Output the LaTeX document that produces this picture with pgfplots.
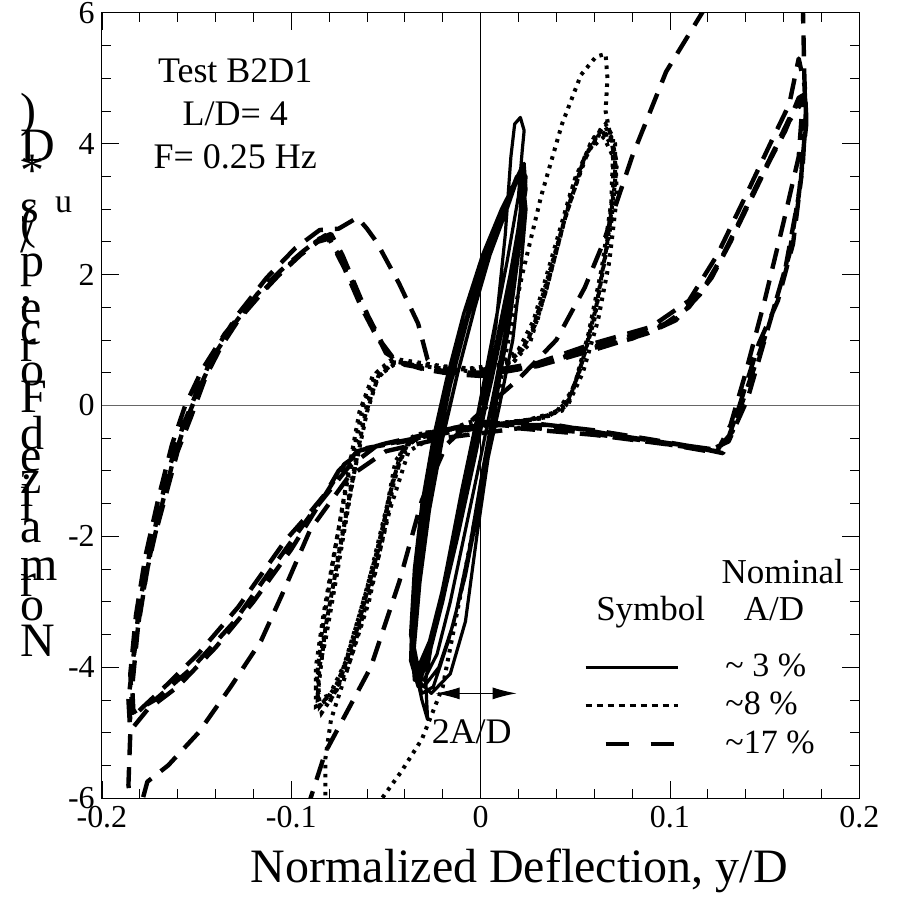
\documentclass[border=0pt]{standalone}
\usepackage{fontspec}
\setmainfont{Liberation Serif}
\usepackage{pgfplots}
\pgfplotsset{compat=1.18}
\usetikzlibrary{arrows.meta}
\newcommand\fs[1]{\fontsize{#1}{#1}\selectfont}
\pgfplotsset{
  lineleg/.style={legend image code/.code={\draw[##1, line width=3.2pt] (0pt,0pt) -- (92pt,0pt); \path[draw=none] (0pt,0pt) -- (138pt,0pt);}},
  dotleg/.style={legend image code/.code={\draw[##1, line width=3.2pt, dash pattern=on 6pt off 5pt] (0pt,0pt) -- (92pt,0pt); \path[draw=none] (0pt,0pt) -- (138pt,0pt);}},
  dashleg/.style={legend image code/.code={\draw[##1, line width=3.8pt, dash pattern=on 23pt off 22pt] (20pt,0pt) -- (88pt,0pt); \path[draw=none] (0pt,0pt) -- (138pt,0pt);}},
}
\begin{document}
\begin{tikzpicture}
\begin{axis}[
  scale only axis, width=758pt, height=786pt,
  xmin=-0.2, xmax=0.2, ymin=-6, ymax=6,
  xtick={-0.2,-0.1,0,0.1,0.2}, ytick={-6,-4,-2,0,2,4,6},
  minor x tick num=4, minor y tick num=3,
  tick align=inside, major tick length=17pt, minor tick length=9pt,
  tick style={black, line width=0.8pt},
  axis line style={line width=1pt},
  /pgf/number format/assume math mode=true,
  ticklabel style={font=\fs{32}, inner sep=2pt},
  xticklabel style={yshift=-6pt},
  yticklabel style={xshift=-5pt},
  xlabel={Normalized Deflection, y/D},
  xlabel style={font=\fs{48}, at={(axis description cs:0.551,0)}, anchor=base, yshift=-84pt},
  legend style={at={(axis cs:0.0545,-3.74)}, anchor=north west, draw=none, fill=none,
    font=\fs{34}, row sep=4.5pt, inner sep=0pt,
    nodes={inner sep=2pt, text height=24pt, text depth=6pt}},
  legend cell align=left,
  clip=true,
]
\draw[line width=0.8pt] (axis cs:0,-6) -- (axis cs:0,6);
\draw[line width=0.8pt, black!60] (axis cs:-0.2,0) -- (axis cs:0.2,0);

% ~3% (solid)
\addplot[black, line width=3.2pt, line join=round, lineleg] coordinates {
(0.0,0.0) (0.008,1.2) (0.013,2.6) (0.016,3.8) (0.018,4.3) (0.021,4.4) (0.023,4.2) (0.022,3.9) (0.02,3.2) (0.014,2.2) (0.006,1.0) (-0.002,-0.2) (-0.01,-1.3) (-0.018,-2.5) (-0.025,-3.5) (-0.029,-4.2) (-0.028,-4.8) (-0.031,-4.5) (-0.034,-4.1)
(-0.036,-3.6) (-0.034,-2.6) (-0.029,-1.5) (-0.022,-0.4) (-0.015,0.5) (-0.006,1.4) (0.004,2.3) (0.013,3.0) (0.019,3.45) (0.023,3.6) (0.022,3.1) (0.017,2.2) (0.01,1.2) (0.003,0.2) (-0.004,-0.7) (-0.012,-1.7) (-0.02,-2.8) (-0.027,-3.6) (-0.033,-4.0)
(-0.035,-3.7) (-0.032,-2.7) (-0.027,-1.6) (-0.02,-0.5) (-0.012,0.5) (-0.003,1.5) (0.006,2.4) (0.015,3.1) (0.021,3.6) (0.024,3.5) (0.023,3.0) (0.019,2.1) (0.013,1.1) (0.007,0.2) (0.0,-0.8) (-0.008,-1.9) (-0.016,-3.0) (-0.023,-3.8) (-0.03,-4.2) (-0.034,-4.1)
(-0.037,-3.5) (-0.035,-2.5) (-0.031,-1.5) (-0.025,-0.5) (-0.018,0.4) (-0.009,1.4) (0.001,2.3) (0.011,3.0) (0.018,3.4) (0.022,3.5) (0.021,2.9) (0.015,1.9) (0.008,0.8) (0.001,-0.2) (-0.007,-1.2) (-0.015,-2.3) (-0.023,-3.3) (-0.03,-3.9) (-0.035,-4.2)
(-0.036,-3.8) (-0.033,-2.8) (-0.028,-1.7) (-0.021,-0.6) (-0.013,0.4) (-0.004,1.4) (0.005,2.3) (0.014,3.0) (0.02,3.5) (0.023,3.7) (0.024,3.3) (0.02,2.5) (0.014,1.5) (0.006,0.4) (-0.002,-0.6) (-0.011,-1.8) (-0.02,-3.0) (-0.027,-3.8) (-0.033,-4.3) (-0.036,-4.0)
(-0.035,-3.0) (-0.03,-1.8) (-0.024,-0.7) (-0.016,0.3) (-0.007,1.3) (0.003,2.3) (0.012,3.0) (0.019,3.5) (0.022,3.4) (0.02,2.6) (0.016,1.6) (0.011,0.6) (0.006,-0.4) (0.0,-1.4) (-0.008,-2.6) (-0.017,-3.6) (-0.025,-4.3) (-0.031,-4.4) (-0.035,-4.0)
(-0.036,-3.4) (-0.033,-2.4) (-0.028,-1.3) (-0.021,-0.2) (-0.012,0.9) (-0.002,1.9) (0.008,2.7) (0.016,3.3) (0.021,3.6) (0.022,3.2) (0.018,2.3) (0.012,1.3) (0.005,0.3) (-0.003,-0.8) (-0.012,-2.0) (-0.021,-3.1) (-0.029,-3.9) (-0.034,-4.2)
(-0.037,-3.9) (-0.036,-3.0) (-0.032,-2.0) (-0.026,-0.9) (-0.019,0.1) (-0.01,1.1) (0.0,2.0) (0.01,2.8) (0.017,3.3) (0.022,3.55) (0.024,3.0) (0.021,2.0) (0.017,1.0) (0.01,0.0) (0.004,-0.8) (-0.002,-2.0) (-0.008,-3.3) (-0.016,-4.1) (-0.026,-4.4) (-0.033,-4.2)
(-0.036,-3.7) (-0.034,-2.9) (-0.03,-1.9) (-0.024,-0.8) (-0.016,0.3) (-0.007,1.4) (0.004,2.4) (0.013,3.1) (0.02,3.5) (0.023,3.3) (0.02,2.3) (0.015,1.2) (0.008,0.1) (0.001,-1.0) (-0.006,-2.2) (-0.014,-3.3) (-0.022,-4.0) (-0.03,-4.3) (-0.035,-4.1)
};
\addlegendentry{\textasciitilde{} 3 \%}

% ~8% (dotted)
\addplot[black, line width=4pt, dash pattern=on 3.5pt off 5.5pt, dotleg] coordinates {
(0.0,-0.2) (-0.02,-0.4) (-0.038,-0.7) (-0.048,-1.6) (-0.058,-2.8) (-0.07,-4.0) (-0.079,-4.8) (-0.082,-5.4) (-0.082,-6.4) (-0.07,-7.0) (-0.056,-6.4)
(-0.052,-6.0) (-0.042,-5.6) (-0.031,-5.1) (-0.02,-4.3) (-0.01,-2.8) (0.0,-1.3) (0.007,-0.2) (0.014,0.9) (0.022,2.0) (0.032,3.2) (0.043,4.3) (0.053,5.05) (0.061,5.33) (0.066,5.37) (0.067,5.0) (0.066,4.5)
(0.07,3.9) (0.069,3.1) (0.064,2.1) (0.057,1.1) (0.05,0.35) (0.043,-0.08) (0.03,-0.2) (0.01,-0.28) (-0.015,-0.35) (-0.035,-0.45) (-0.045,-0.85) (-0.052,-1.95) (-0.064,-3.2) (-0.075,-4.25) (-0.085,-4.6) (-0.086,-4.1) (-0.082,-3.6) (-0.076,-2.6) (-0.069,-1.4) (-0.062,-0.25) (-0.055,0.4) (-0.046,0.66) (-0.025,0.58) (-0.005,0.52) (0.012,0.6) (0.022,0.85) (0.03,1.3) (0.041,2.47) (0.05,3.48) (0.06,4.1) (0.066,4.25) (0.071,4.0)
(0.071,3.4) (0.067,2.5) (0.061,1.5) (0.054,0.7) (0.047,0.1) (0.038,-0.15) (0.02,-0.25) (0.0,-0.32) (-0.025,-0.4) (-0.04,-0.6) (-0.048,-1.4) (-0.057,-2.5) (-0.068,-3.7) (-0.078,-4.4) (-0.086,-4.5) (-0.085,-3.9) (-0.08,-3.1) (-0.074,-2.1) (-0.067,-1.0) (-0.06,0.0) (-0.053,0.5) (-0.043,0.7) (-0.02,0.6) (0.0,0.55) (0.015,0.65) (0.025,1.0) (0.034,1.7) (0.044,2.8) (0.054,3.7) (0.063,4.2) (0.069,4.1)
(0.072,3.7) (0.069,2.8) (0.063,1.8) (0.056,0.9) (0.049,0.25) (0.04,-0.1) (0.025,-0.22) (0.0,-0.3) (-0.02,-0.38) (-0.038,-0.55) (-0.046,-1.1) (-0.054,-2.2) (-0.065,-3.4) (-0.076,-4.35) (-0.084,-4.7) (-0.087,-4.3) (-0.084,-3.5) (-0.078,-2.4) (-0.071,-1.2) (-0.064,-0.1) (-0.057,0.45) (-0.048,0.68) (-0.03,0.62) (-0.01,0.55) (0.01,0.62) (0.02,0.85) (0.028,1.3) (0.038,2.3) (0.048,3.3) (0.058,4.0) (0.066,4.3) (0.07,4.1)
(0.07,3.3) (0.066,2.3) (0.06,1.3) (0.052,0.5) (0.045,0.0) (0.035,-0.18) (0.015,-0.26) (-0.01,-0.33) (-0.03,-0.42) (-0.042,-0.7) (-0.05,-1.6) (-0.06,-2.8) (-0.071,-3.9) (-0.081,-4.5) (-0.087,-4.6) (-0.087,-4.0) (-0.083,-3.2) (-0.077,-2.2) (-0.07,-1.1) (-0.062,0.0) (-0.055,0.5) (-0.045,0.68) (-0.025,0.6) (0.0,0.53) (0.016,0.62) (0.026,0.95) (0.035,1.8) (0.045,2.9) (0.055,3.8) (0.064,4.2) (0.071,3.9)
(0.072,3.2) (0.068,2.2) (0.062,1.3) (0.054,0.5) (0.046,0.0) (0.032,-0.2) (0.01,-0.28) (-0.015,-0.36) (-0.036,-0.5) (-0.044,-0.9) (-0.05,-1.8) (-0.059,-3.0) (-0.07,-4.0) (-0.08,-4.55) (-0.086,-4.4) (-0.082,-3.4) (-0.075,-2.3) (-0.068,-1.2) (-0.06,-0.1) (-0.054,0.45) (-0.044,0.66) (-0.02,0.58) (0.005,0.54) (0.018,0.68) (0.027,1.1) (0.037,2.1) (0.047,3.1) (0.057,3.9) (0.065,4.1) (0.07,3.8)
};
\addlegendentry{\textasciitilde8 \%}

% ~17% (dashed)
\addplot[black, line width=4.4pt, dash pattern=on 21pt off 12pt, line join=round, dashleg] coordinates {
(-0.092,-6.2) (-0.082,-5.3) (-0.058,-4.0) (-0.043,-2.7) (-0.031,-1.45) (-0.018,-0.6) (0.0,-0.1) (0.02,0.4) (0.04,1.0) (0.055,1.8) (0.065,2.5) (0.073,3.2) (0.080,3.8) (0.089,4.45) (0.098,5.1) (0.117,6.0) (0.14,7.2) (0.17,6.4)
(0.171,5.0) (0.172,4.4) (0.169,3.4) (0.165,2.47) (0.157,1.6) (0.147,0.95) (0.136,-0.07) (0.128,-0.73) (0.11,-0.62) (0.09,-0.52) (0.06,-0.38) (0.03,-0.28) (0.0,-0.25) (-0.03,-0.45) (-0.05,-0.58) (-0.065,-0.7) (-0.075,-1.0) (-0.082,-1.35) (-0.092,-1.7) (-0.103,-2.06) (-0.115,-2.55) (-0.128,-3.08) (-0.149,-3.79) (-0.165,-4.25) (-0.178,-4.6) (-0.185,-4.8) (-0.186,-4.5) (-0.183,-3.8) (-0.179,-2.98) (-0.174,-2.2) (-0.167,-1.45) (-0.16,-0.7) (-0.153,-0.18) (-0.145,0.45) (-0.137,0.9) (-0.128,1.3) (-0.116,1.7) (-0.103,2.1) (-0.092,2.4) (-0.082,2.6) (-0.076,2.35) (-0.068,1.9) (-0.06,1.4) (-0.052,0.95) (-0.045,0.68) (-0.03,0.55) (-0.015,0.48) (0.0,0.45) (0.02,0.55) (0.04,0.7) (0.06,0.88) (0.08,1.02) (0.095,1.2) (0.11,1.5) (0.122,1.95) (0.132,2.5) (0.142,3.1) (0.152,3.7) (0.161,4.2) (0.168,4.7) (0.171,4.75)
(0.172,4.6) (0.17,3.6) (0.163,2.3) (0.152,1.2) (0.14,0.2) (0.133,-0.4) (0.125,-0.68) (0.1,-0.58) (0.07,-0.45) (0.04,-0.3) (0.0,-0.3) (-0.03,-0.5) (-0.06,-0.65) (-0.072,-0.9) (-0.085,-1.5) (-0.1,-2.2) (-0.12,-3.0) (-0.14,-3.7) (-0.16,-4.3) (-0.176,-4.65) (-0.183,-4.9) (-0.184,-4.3) (-0.181,-3.4) (-0.176,-2.5) (-0.169,-1.6) (-0.162,-0.8) (-0.155,-0.2) (-0.148,0.3) (-0.14,0.8) (-0.13,1.25) (-0.118,1.7) (-0.106,2.05) (-0.094,2.35) (-0.085,2.55) (-0.079,2.62) (-0.073,2.3) (-0.065,1.75) (-0.057,1.2) (-0.05,0.8) (-0.04,0.62) (-0.02,0.52) (0.0,0.48) (0.03,0.62) (0.06,0.9) (0.09,1.15) (0.105,1.35) (0.118,1.8) (0.13,2.4) (0.143,3.2) (0.155,3.9) (0.165,4.5) (0.17,4.7)
(0.17,4.6) (0.168,3.8) (0.16,2.8) (0.15,1.6) (0.14,0.5) (0.132,-0.3) (0.125,-0.7) (0.1,-0.6) (0.06,-0.45) (0.02,-0.35) (-0.02,-0.5) (-0.05,-0.7) (-0.07,-1.1) (-0.09,-1.9) (-0.105,-2.9) (-0.116,-3.6) (-0.132,-4.3) (-0.149,-5.0) (-0.165,-5.5) (-0.176,-5.75) (-0.183,-6.5) (-0.186,-5.8) (-0.185,-5.0) (-0.186,-4.5) (-0.184,-4.0) (-0.18,-3.0) (-0.173,-2.0) (-0.165,-1.0) (-0.157,-0.3) (-0.15,0.2) (-0.14,0.85) (-0.128,1.4) (-0.113,1.95) (-0.098,2.4) (-0.085,2.68) (-0.075,2.7) (-0.065,2.87) (-0.06,2.7) (-0.055,2.5) (-0.043,1.86) (-0.033,1.25) (-0.028,0.7) (-0.02,0.5) (0.0,0.5) (0.03,0.65) (0.06,0.95) (0.09,1.2) (0.11,1.6) (0.125,2.3) (0.14,3.2) (0.153,4.0) (0.163,4.6) (0.168,5.3) (0.171,4.9)
(0.172,4.3) (0.168,3.2) (0.161,2.1) (0.151,1.1) (0.141,0.1) (0.131,-0.55) (0.12,-0.7) (0.09,-0.55) (0.05,-0.4) (0.01,-0.3) (-0.025,-0.45) (-0.055,-0.62) (-0.07,-0.95) (-0.088,-1.6) (-0.108,-2.4) (-0.13,-3.3) (-0.152,-4.0) (-0.172,-4.5) (-0.184,-4.7) (-0.185,-4.1) (-0.182,-3.2) (-0.177,-2.3) (-0.17,-1.4) (-0.163,-0.6) (-0.156,0.0) (-0.147,0.55) (-0.135,1.1) (-0.122,1.55) (-0.108,1.95) (-0.095,2.3) (-0.086,2.5) (-0.08,2.55) (-0.072,2.1) (-0.063,1.5) (-0.054,1.0) (-0.046,0.7) (-0.03,0.56) (0.0,0.47) (0.03,0.6) (0.06,0.85) (0.088,1.1) (0.103,1.3) (0.116,1.7) (0.128,2.3) (0.14,3.0) (0.152,3.7) (0.162,4.3) (0.169,4.6)
};
\addlegendentry{\textasciitilde17 \%}

\node[font=\fontsize{36}{43}\selectfont, align=center, anchor=north, inner sep=0pt] at (axis cs:-0.1296,5.3) {Test B2D1\\L/D= 4\\F= 0.25 Hz};

\draw[line width=1pt, {Latex[length=24pt,width=12pt]}-{Latex[length=24pt,width=12pt]}] (axis cs:-0.0238,-4.4) -- (axis cs:0.019,-4.4);
\node[font=\fs{36}, anchor=base west, inner sep=0pt] at (axis cs:-0.0259,-5.16) {2A/D};

\node[font=\fs{35}, anchor=base east, inner sep=0pt] at (axis cs:0.192,-2.72) {Nominal};
\node[font=\fs{35}, anchor=base west, inner sep=0pt] at (axis cs:0.061,-3.28) {Symbol};
\node[font=\fs{35}, anchor=base west, inner sep=0pt] at (axis cs:0.139,-3.28) {A/D};
\end{axis}

% y label: letters of the rotated title, each set upright
\begin{scope}[every node/.style={anchor=base west, inner sep=0pt, font=\fs{48}}]
\node at (-82pt,142pt) {N};
\node at (-82pt,177.4pt) {o};
\node at (-82pt,201.9pt) {r};
\node at (-82pt,218.2pt) {m};
\node at (-82pt,256.3pt) {a};
\node at (-82pt,278.1pt) {l};
\node at (-82pt,291.7pt) {i};
\node at (-82pt,305.3pt) {z};
\node at (-82pt,327.1pt) {e};
\node at (-82pt,348.8pt) {d};
\node at (-82pt,385.6pt) {F};
\node at (-82pt,412.8pt) {o};
\node at (-82pt,437.3pt) {r};
\node at (-82pt,453.6pt) {c};
\node at (-82pt,475.4pt) {e};
\node at (-82pt,497.2pt) {,};
\node at (-82pt,521.7pt) {p};
\node at (-82pt,546.2pt) {/};
\node at (-82pt,559.8pt) {(};
\node at (-82pt,576.1pt) {s};
\node[font=\fs{34}] at (-47pt,586pt) {u};
\node at (-82pt,612.3pt) {*};
\node at (-82pt,636.8pt) {D};
\node at (-82pt,672.2pt) {)};
\end{scope}
\path (-102pt,-112pt) rectangle (795pt,798pt);
\end{tikzpicture}
\end{document}
